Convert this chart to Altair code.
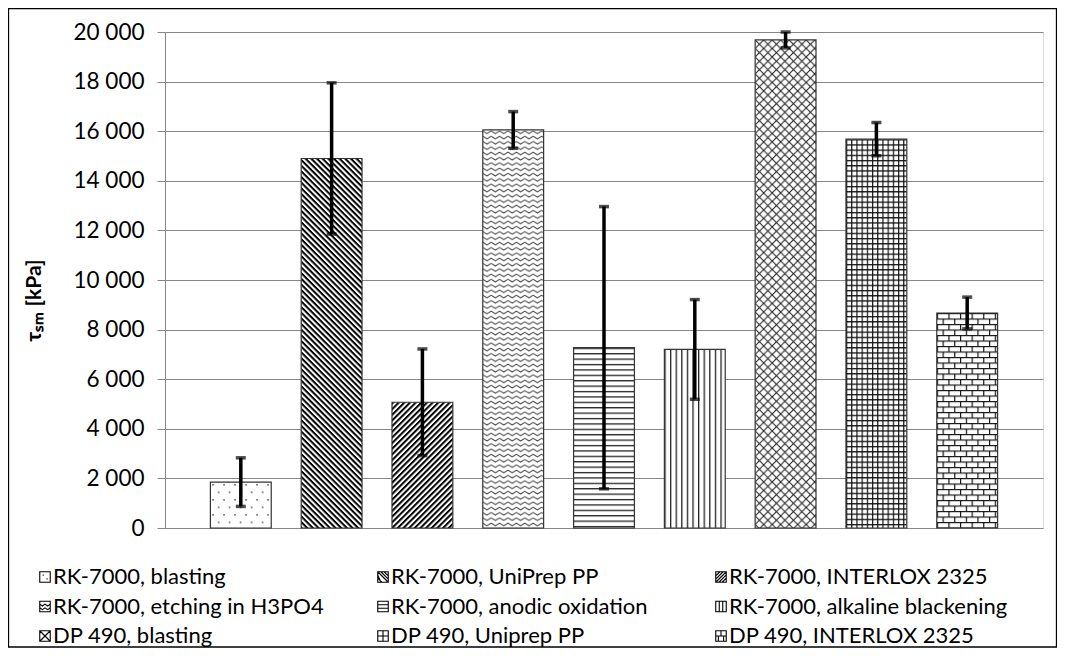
import base64
import altair as alt
import pandas as pd

# ---------------- data ----------------
categories = [
    "RK-7000, blasting",
    "RK-7000, UniPrep PP",
    "RK-7000, INTERLOX 2325",
    "RK-7000, etching in H3PO4",
    "RK-7000, anodic oxidation",
    "RK-7000, alkaline blackening",
    "DP 490, blasting",
    "DP 490, Uniprep PP",
    "DP 490, INTERLOX 2325",
]
means = [1850, 14900, 5070, 16050, 7270, 7200, 19680, 15680, 8670]
errors = [980, 3050, 2150, 740, 5690, 2010, 320, 670, 640]
y_ticks = [0, 2000, 4000, 6000, 8000, 10000, 12000, 14000, 16000, 18000, 20000]
y_title = "τₛₘ [kPa]"

FONT = "Lato"


# ---------------- fill patterns (style) ----------------
def pattern_uri(tw, th, body, transform=""):
    pt = f' patternTransform="{transform}"' if transform else ""
    svg = (
        '<svg xmlns="http://www.w3.org/2000/svg">'
        f'<defs><pattern id="p" patternUnits="userSpaceOnUse" width="{tw}" height="{th}"{pt}>'
        f"{body}</pattern></defs>"
        '<rect width="100%" height="100%" fill="#ffffff"/>'
        '<rect width="100%" height="100%" fill="url(#p)"/></svg>'
    )
    return "data:image/svg+xml;base64," + base64.b64encode(svg.encode("utf-8")).decode("ascii")


patterns = [
    pattern_uri(11, 15, '<rect x="2" y="2" width="1.4" height="1.4" fill="#333"/>'
                        '<rect x="7.5" y="9.5" width="1.4" height="1.4" fill="#333"/>'),
    pattern_uri(10, 4.0, '<rect width="10" height="2" fill="#000"/>', "rotate(45)"),
    pattern_uri(10, 4.0, '<rect width="10" height="2" fill="#000"/>', "rotate(-45)"),
    pattern_uri(8.4, 5.3, '<path d="M-4.2,3.6 L0,1 L4.2,3.6 L8.4,1 L12.6,3.6" fill="none" '
                          'stroke="#444" stroke-width="1"/>'),
    pattern_uri(10, 5.4, '<rect y="0" width="10" height="1.3" fill="#222"/>'),
    pattern_uri(5.6, 10, '<rect x="0" width="1.3" height="10" fill="#222"/>'),
    pattern_uri(8.5, 8.5, '<path d="M0,0L8.5,8.5M8.5,0L0,8.5" stroke="#222" stroke-width="1.1"/>'),
    pattern_uri(5.2, 5.2, '<path d="M0,0.6H5.2M0.6,0V5.2" stroke="#111" stroke-width="1.2"/>'),
    pattern_uri(11.6, 11, '<path d="M0,0.6H11.6M0,6.1H11.6M0.6,0V6.1M6.4,6.1V11" '
                          'stroke="#111" stroke-width="1.2"/>'),
]

box = "M-1,-1H1V1H-1Z"
legend_icons = [
    box + "M-0.45,-0.35h0.2M0.3,0.35h0.2",
    box + "M-1,-1L1,1M-1,-0.4L-0.4,1M-1,0.2L-0.2,1M-0.4,-1L1,0.4M0.2,-1L1,-0.2",
    box + "M-1,1L1,-1M-1,0.4L0.4,-1M-1,-0.2L-0.2,-1M-0.4,1L1,-0.4M0.2,1L1,0.2",
    box + "M-1,-0.45L-0.5,-0.1L0,-0.45L0.5,-0.1L1,-0.45M-1,0.25L-0.5,0.6L0,0.25L0.5,0.6L1,0.25",
    box + "M-1,-0.33H1M-1,0.33H1",
    box + "M-0.33,-1V1M0.33,-1V1",
    box + "M-1,-1L1,1M-1,1L1,-1",
    box + "M0,-1V1M-1,0H1",
    box + "M-1,0H1M0,-1V0M-0.5,0V1M0.5,0V1",
]

df = pd.DataFrame({
    "cat": categories,
    "mean": means,
    "lo": [m - e for m, e in zip(means, errors)],
    "hi": [m + e for m, e in zip(means, errors)],
    "url": patterns,
})

# ---------------- scales / axes ----------------
x_scale = alt.Scale(domain=categories, paddingInner=0.33, paddingOuter=0.5)
y_scale = alt.Scale(domain=[0, 20000], nice=False, zero=True)
y_axis = alt.Axis(
    values=y_ticks,
    labelExpr="replace(format(datum.value, ','), ',', ' ')",
    labelFont=FONT, labelFontSize=22.5, labelColor="#000000", labelPadding=13,
    tickSize=8, tickColor="#868686", domainColor="#868686",
    gridColor="#868686", gridWidth=1,
    title=y_title, titleFont=FONT, titleFontSize=21, titleFontWeight="bold",
    titleColor="#000000", titleX=-131, titleY=268, titleAngle=270,
    titleAlign="center", titleBaseline="middle",
)


def X():
    return alt.X("cat:N", sort=categories, scale=x_scale, axis=None)


base = alt.Chart(df)

legend = alt.Legend(
    title=None, orient="none", legendX=-131, legendY=534, columns=3,
    direction="horizontal", gridAlign="all",
    columnPadding=40, rowPadding=7.5, symbolSize=110, symbolStrokeWidth=1.1,
    symbolStrokeColor="#000000", symbolFillColor="transparent", symbolOpacity=1,
    labelFont=FONT, labelFontSize=22, labelColor="#000000",
    labelOffset={"expr": "-3"},
    labelLimit=400, padding=0,
)

# hidden point layer that supplies the legend (covered by the pattern fills)
legend_pts = base.transform_calculate(mid="datum.mean / 2").mark_point(
    filled=False, stroke="#000000", size=100, strokeWidth=1
).encode(
    x=X(),
    y=alt.Y("mid:Q", scale=y_scale, axis=y_axis, title=y_title),
    shape=alt.Shape("cat:N", sort=categories,
                    scale=alt.Scale(domain=categories, range=legend_icons),
                    legend=legend),
)

fills = base.mark_image(aspect=False).encode(
    x=X(),
    y=alt.Y("mean:Q", scale=y_scale, axis=y_axis, title=y_title),
    url="url:N",
)

outlines = base.mark_bar(fill="transparent", stroke="#333333", strokeWidth=1.2).encode(
    x=X(),
    y=alt.Y("mean:Q", scale=y_scale, axis=y_axis, title=y_title),
)

err_rule = base.mark_rule(color="#000000", strokeWidth=3.5).encode(
    x=X(),
    y=alt.Y("lo:Q", scale=y_scale, axis=y_axis, title=y_title),
    y2="hi:Q",
)

cap_lo = base.mark_tick(color="#000000", thickness=3.5, size=10).encode(
    x=X(),
    y=alt.Y("lo:Q", scale=y_scale, axis=y_axis, title=y_title),
)
cap_hi = base.mark_tick(color="#000000", thickness=3.5, size=10).encode(
    x=X(),
    y=alt.Y("hi:Q", scale=y_scale, axis=y_axis, title=y_title),
)

frame = alt.Chart(pd.DataFrame({"k": [0]})).mark_rect(
    fill="transparent", stroke="#000000", strokeWidth=1.3
).encode(
    x=alt.value(-156.5), x2=alt.value(891.5), y=alt.value(-23.5), y2=alt.value(615)
)

chart = alt.layer(
    frame, legend_pts, fills, outlines, err_rule, cap_lo, cap_hi
).properties(
    width=878, height=496,
    padding={"left": 157, "top": 24, "right": 14, "bottom": 120},
    autosize=alt.AutoSizeParams(type="none"),
).configure_view(
    stroke="#868686", strokeWidth=1
).configure(
    font=FONT
)

chart.save("out.html", embed_options={"renderer": "svg", "actions": False})
